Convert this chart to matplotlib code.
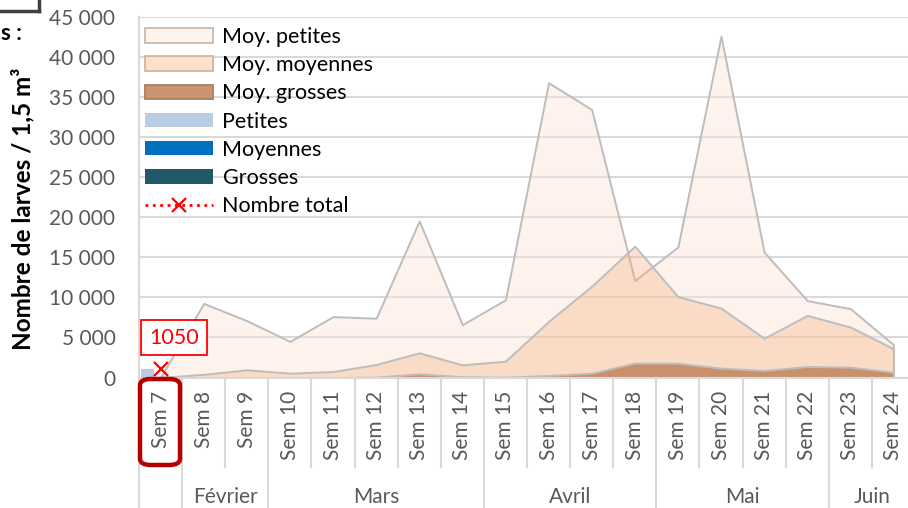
import numpy as np
import matplotlib
matplotlib.use("Agg")
import matplotlib.pyplot as plt
from matplotlib.patches import Patch, FancyBboxPatch
from matplotlib.lines import Line2D
from matplotlib.transforms import blended_transform_factory
from matplotlib.ticker import FuncFormatter

plt.rcParams["font.family"] = ["Lato", "DejaVu Sans"]

# ---- data -------------------------------------------------------------
weeks = ["Sem 7", "Sem 8", "Sem 9", "Sem 10", "Sem 11", "Sem 12", "Sem 13",
         "Sem 14", "Sem 15", "Sem 16", "Sem 17", "Sem 18", "Sem 19",
         "Sem 20", "Sem 21", "Sem 22", "Sem 23", "Sem 24"]
months = ["Février", "Mars", "Avril", "Mai", "Juin"]
month_first = [1, 3, 8, 12, 16]
month_last = [2, 7, 11, 15, 17]

moy_petites = [0, 9250, 7100, 4500, 7600, 7400, 19550, 6600, 9700, 36800,
               33450, 12100, 16300, 42600, 15650, 9600, 8600, 4100]
moy_moyennes = [0, 400, 960, 540, 750, 1620, 3080, 1580, 2040, 7000,
                11400, 16400, 10100, 8670, 4900, 7750, 6300, 3600]
moy_grosses = [0, 0, 0, 0, 0, 50, 460, 100, 50, 250,
               540, 1800, 1790, 1170, 875, 1375, 1290, 660]

petites = [1050] + [np.nan] * 17
moyennes = [0] + [np.nan] * 17
grosses = [0] + [np.nan] * 17
total = [1050] + [np.nan] * 17

# ---- figure -----------------------------------------------------------
W, H = 908, 508
fig = plt.figure(figsize=(W / 100, H / 100), dpi=100)


def fx(px):
    return px / W


def fy(py):
    return 1 - py / H


ax = fig.add_axes([fx(139), fy(377.5), fx(915) - fx(139), fy(17) - fy(377.5)])
x = np.arange(len(weeks))

TXT = "#595959"
GRID = "#D9D9D9"
FS = 15

# averaged areas (overlapping, semi-transparent)
area_specs = [
    (moy_petites, "#FBE5D6", 0.45),
    (moy_moyennes, "#F4B183", 0.36),
    (moy_grosses, "#B9794D", 0.75),
]
for vals, col, a in area_specs:
    ax.fill_between(x, 0, vals, facecolor=matplotlib.colors.to_rgba(col, a),
                    edgecolor="#BDBDBD", linewidth=1.4, zorder=2)

# weekly bars
bw = 0.30
for vals, col, off in [(petites, "#B8CCE4", -bw), (moyennes, "#0070C0", 0.0),
                       (grosses, "#215968", bw)]:
    v = np.array(vals, dtype=float)
    m = np.isfinite(v)
    ax.bar(x[m] + off, v[m], width=bw, color=col, zorder=3)

# total
tot = np.array(total, dtype=float)
ax.plot(x, tot, color="#FF0000", linestyle=":", linewidth=2, marker="x",
        markersize=10, markeredgewidth=1.6, zorder=5)
for i, v in enumerate(tot):
    if np.isfinite(v):
        ax.annotate(f"{int(v)}", (x[i], v), xytext=(13.5, 31.5),
                    textcoords="offset pixels", ha="center", va="center",
                    color="#FF0000", fontsize=15.5,
                    bbox=dict(boxstyle="square,pad=0.36", fc="white",
                              ec="#FF0000", lw=1.3), zorder=6)

ax.set_xlim(-0.5, len(weeks) - 0.5)
ax.set_ylim(0, 45000)
ax.set_yticks(np.arange(0, 45001, 5000))
ax.yaxis.set_major_formatter(FuncFormatter(lambda v, p: f"{int(v):,}".replace(",", " ")))
ax.tick_params(axis="y", length=0, pad=17, labelsize=FS, labelcolor=TXT)
ax.set_xticks([])
ax.grid(axis="y", color=GRID, linewidth=1.5, zorder=0)
ax.set_axisbelow(True)
for s in ["top", "right"]:
    ax.spines[s].set_visible(False)
for s in ["left", "bottom"]:
    ax.spines[s].set_color(GRID)
    ax.spines[s].set_linewidth(1.5)

# ---- two-level category axis ---------------------------------------
tr = blended_transform_factory(ax.transData, fig.transFigure)
for i, w in enumerate(weeks):
    ax.text(x[i], fy(391), w, rotation=90, ha="center", va="top",
            fontsize=FS, color=TXT, transform=tr, clip_on=False)

month_bounds = {-0.5, 0.5} | {f - 0.5 for f in month_first}
for k in range(len(weeks)):
    b = k - 0.5
    bottom = fy(H) if b in month_bounds else fy(467)
    ax.add_line(Line2D([b, b], [fy(377.5), bottom], transform=tr,
                       color=GRID, linewidth=1.5, clip_on=False))

for name, f, l in zip(months, month_first, month_last):
    ax.text((f + l) / 2, fy(503), name, ha="center", va="baseline",
            fontsize=FS, color=TXT, transform=tr, clip_on=False)

# highlight around the first week label
fig.patches.append(FancyBboxPatch((fx(140), fy(465)), fx(180) - fx(140),
                                  fy(379) - fy(465),
                                  boxstyle="round,pad=0,rounding_size=0.012",
                                  transform=fig.transFigure, fill=False,
                                  ec="#B40000", lw=3.2, zorder=10))

# ---- axis title & header -------------------------------------------
fig.text(fx(23), fy(209), "Nombre de larves / 1,5 m³", rotation=90,
         ha="center", va="center", fontsize=17.5, fontweight="bold",
         color="black")
fig.text(fx(1), fy(33), "s :", ha="left", va="center", fontsize=16,
         fontweight="bold", color="black")
fig.lines.append(Line2D([0, fx(39)], [fy(11), fy(11)], transform=fig.transFigure,
                        color="#404040", linewidth=2.5))
fig.lines.append(Line2D([fx(39), fx(39)], [fy(0), fy(11)], transform=fig.transFigure,
                        color="#404040", linewidth=2.5))

# ---- legend ---------------------------------------------------------
handles = [
    Patch(facecolor="#FDF4EE", edgecolor="#CDB9AB", linewidth=1.3),
    Patch(facecolor="#FBE0CC", edgecolor="#D6B49C", linewidth=1.3),
    Patch(facecolor="#C9946E", edgecolor="#A8805F", linewidth=1.3),
    Patch(facecolor="#B8CCE4", edgecolor="none"),
    Patch(facecolor="#0070C0", edgecolor="none"),
    Patch(facecolor="#215968", edgecolor="none"),
    Line2D([], [], color="#FF0000", linestyle=":", linewidth=2, marker="x",
           markersize=10, markeredgewidth=1.6),
]
labels = ["Moy. petites", "Moy. moyennes", "Moy. grosses", "Petites",
          "Moyennes", "Grosses", "Nombre total"]
fig.legend(handles, labels, loc="upper left",
           bbox_to_anchor=(fx(145), fy(27)), bbox_transform=fig.transFigure,
           frameon=False, fontsize=15.5, borderpad=0, borderaxespad=0,
           handlelength=3.15, handleheight=0.65, handletextpad=0.45,
           labelspacing=0.38)

fig.savefig("out.png", dpi=100)
